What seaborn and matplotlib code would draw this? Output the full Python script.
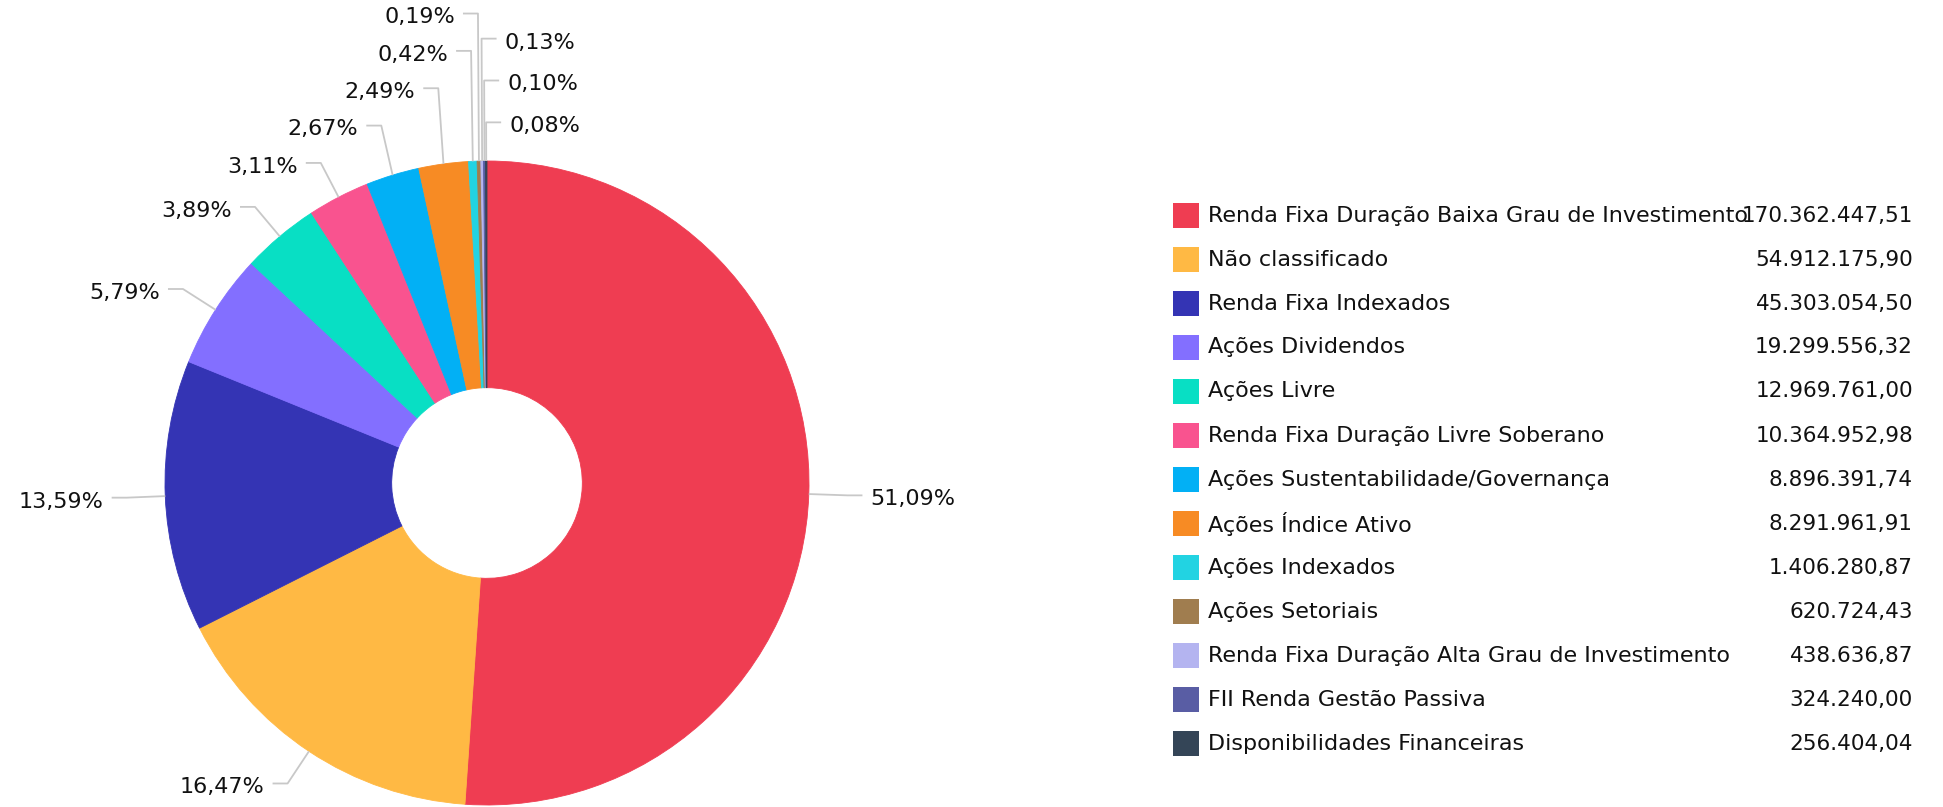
import numpy as np
import seaborn as sns
import matplotlib.pyplot as plt
from matplotlib.patches import Rectangle

sns.set_theme(style='white')
plt.rcParams['font.family'] = ['DejaVu Sans']

categories = ['Renda Fixa Duração Baixa Grau de Investimento', 'Não classificado',
              'Renda Fixa Indexados', 'Ações Dividendos', 'Ações Livre',
              'Renda Fixa Duração Livre Soberano', 'Ações Sustentabilidade/Governança',
              'Ações Índice Ativo', 'Ações Indexados', 'Ações Setoriais',
              'Renda Fixa Duração Alta Grau de Investimento', 'FII Renda Gestão Passiva',
              'Disponibilidades Financeiras']
values = [170362447.51, 54912175.90, 45303054.50, 19299556.32, 12969761.00,
          10364952.98, 8896391.74, 8291961.91, 1406280.87, 620724.43,
          438636.87, 324240.00, 256404.04]
colors = ['#EF3D52', '#FFB944', '#3434B4', '#836FFF', '#08DFC4', '#F9538F',
          '#02B0F5', '#F78B24', '#22D3E2', '#A07D4F', '#B4B4F0', '#595DA4',
          '#344557']


def br(v, dec=2):
    s = f'{v:,.{dec}f}'
    return s.replace(',', 'X').replace('.', ',').replace('X', '.')


W, H = 1943, 807
fig = plt.figure(figsize=(W / 100, H / 100), dpi=100)
cx, cy, R = 487, 483, 322
ax = fig.add_axes([(cx - R) / W, (H - cy - R) / H, 2 * R / W, 2 * R / H])
wedges, _ = ax.pie(values, colors=colors, startangle=90, counterclock=False, radius=1,
                   wedgeprops=dict(width=0.704, linewidth=0.6))
for w, c in zip(wedges, colors):
    w.set_edgecolor(c)
ax.set_xlim(-1, 1)
ax.set_ylim(-1, 1)
ax.set_aspect('equal')
ax.axis('off')

# label placement: elbow on a ring, stacked so labels don't collide
total = sum(values)
shares = np.array(values) / total
mids = (np.cumsum(shares) - shares / 2) * 360  # clockwise from top
ang = np.radians(90 - mids)
r_l = 1.12
ylab = r_l * np.sin(ang)
side = np.where((mids < 180) | (mids > 359), 1, -1)

left = sorted([i for i in range(len(values)) if side[i] < 0], key=lambda i: mids[i])
right = sorted([i for i in range(len(values)) if side[i] > 0],
               key=lambda i: -(mids[i] if mids[i] <= 180 else mids[i] - 360))
for group, gap in ((left, 0.116), (right, 0.13)):
    prev = -10
    for i in group:
        ylab[i] = max(ylab[i], prev + gap)
        prev = ylab[i]

seg, pad = 15 / R, 8 / R
for i in range(len(values)):
    ex, ey = np.cos(ang[i]), np.sin(ang[i])
    bx = r_l * ex
    by = ylab[i]
    s = side[i]
    ax.plot([ex, bx, bx + s * seg], [ey, by, by], color='#c8c8c8', lw=1.3,
            solid_capstyle='butt', clip_on=False)
    ax.text(bx + s * (seg + pad), by - 0.012, br(shares[i] * 100) + '%',
            ha='left' if s > 0 else 'right', va='center', fontsize=16,
            color='#111111', clip_on=False)

# legend with values
for k, (name, v, c) in enumerate(zip(categories, values, colors)):
    yc = 215.5 + 44 * k
    fig.patches.append(Rectangle((1173 / W, 1 - (yc + 12.5) / H), 26 / W, 25 / H,
                                 transform=fig.transFigure, facecolor=c,
                                 edgecolor='none'))
    fig.text(1208 / W, 1 - yc / H, name, ha='left', va='center', fontsize=16,
             color='#111111')
    fig.text(1913 / W, 1 - yc / H, br(v), ha='right', va='center', fontsize=15.5,
             color='#111111')

fig.savefig('out.png', dpi=100, facecolor='white')
